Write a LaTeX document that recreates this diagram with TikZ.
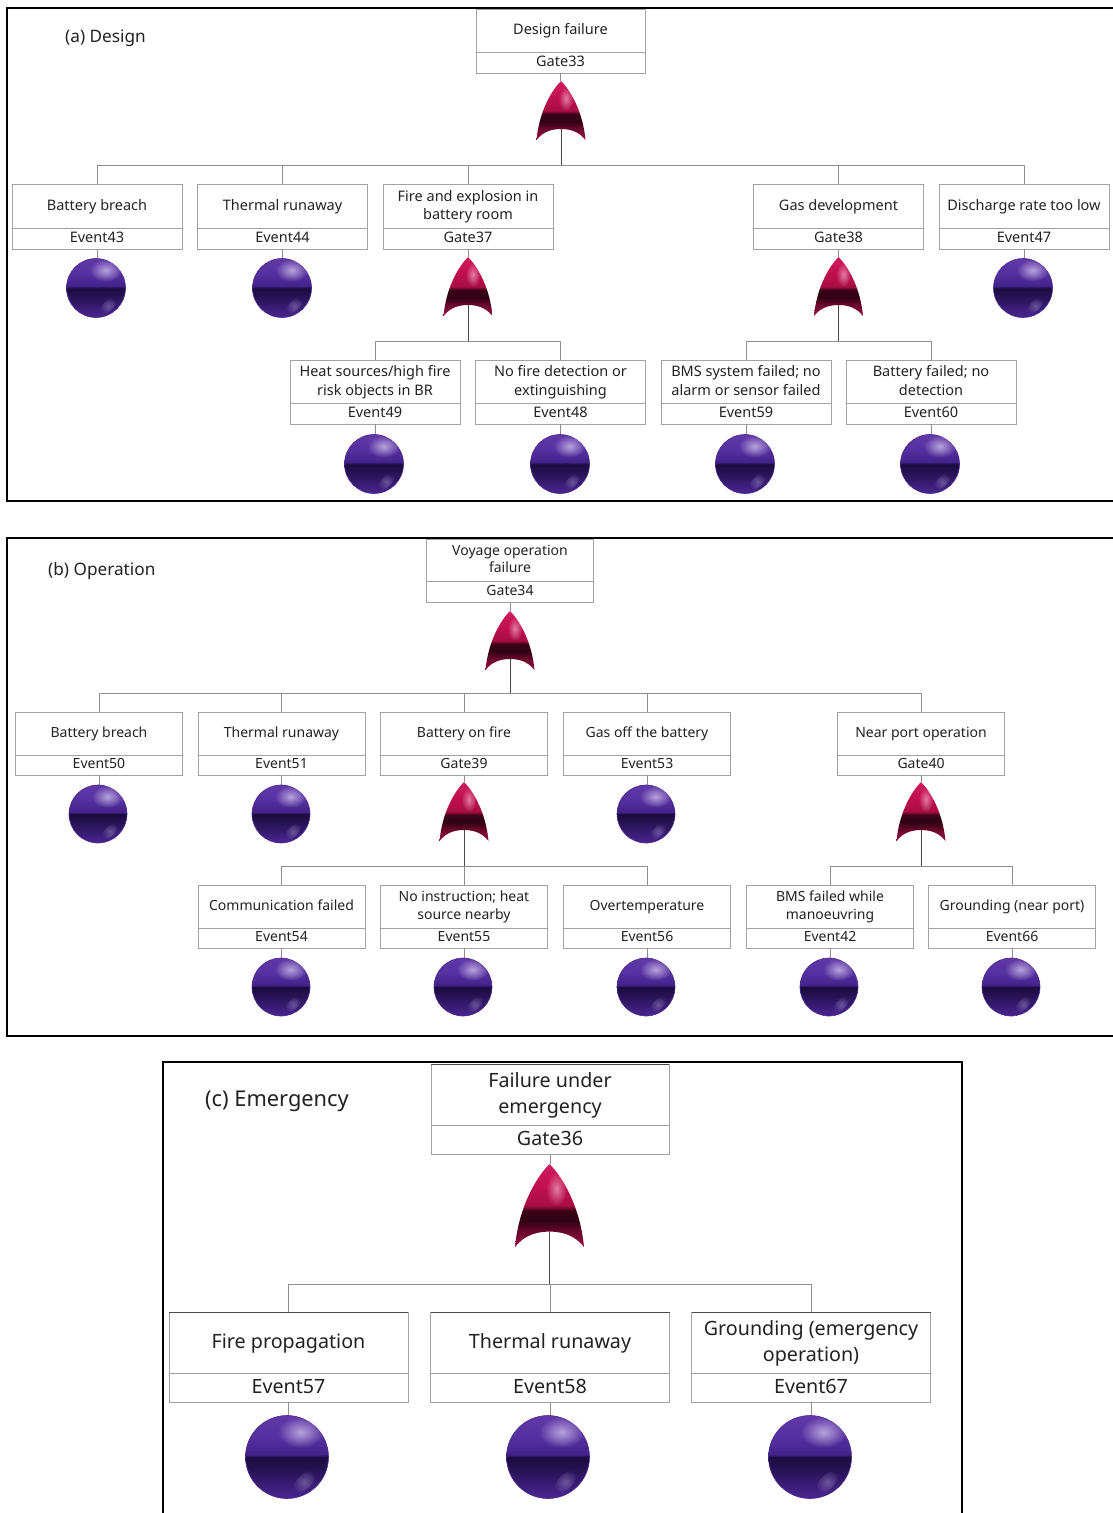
\documentclass[tikz,border=0pt]{standalone}
\usepackage{fontspec}
\setmainfont{Noto Sans}
\usetikzlibrary{fadings}
\definecolor{txt}{HTML}{222222}
\definecolor{boxline}{HTML}{A2A2A2}
\definecolor{connline}{HTML}{8E8E8E}
\definecolor{stemdark}{HTML}{4A4A4A}
\definecolor{ballrim}{HTML}{4A2A8C}
\definecolor{glowball}{HTML}{DCD0F2}
\definecolor{glowgate}{HTML}{F6B8D0}
\definecolor{bA}{HTML}{4B2593}\definecolor{bB}{HTML}{3A1D76}\definecolor{bC}{HTML}{241150}
\definecolor{bD}{HTML}{1B0C3E}\definecolor{bE}{HTML}{43228A}\definecolor{bF}{HTML}{5530A0}\definecolor{bG}{HTML}{6238A8}
\definecolor{gA}{HTML}{9C0E45}\definecolor{gB}{HTML}{66062A}\definecolor{gC}{HTML}{2E0212}
\definecolor{gD}{HTML}{3A0417}\definecolor{gE}{HTML}{A80D42}\definecolor{gF}{HTML}{C2104F}\definecolor{gG}{HTML}{CF1B5E}
\pgfdeclareverticalshading{ballshade}{100bp}{
 color(0bp)=(bA); color(25bp)=(bA); color(33bp)=(bB);
 color(44bp)=(bC); color(50bp)=(bD); color(51.5bp)=(bE);
 color(62bp)=(bF); color(75bp)=(bG); color(100bp)=(bG)}
\pgfdeclareverticalshading{gateshade}{100bp}{
 color(0bp)=(gA); color(25bp)=(gA); color(35bp)=(gB);
 color(41bp)=(gC); color(47bp)=(gD); color(50bp)=(gE);
 color(62bp)=(gF); color(75bp)=(gG); color(100bp)=(gG)}
\tikzfading[name=glow, inner color=transparent!20, outer color=transparent!100]
\tikzset{
 fbody/.style={draw=boxline, line width=1pt, fill=white, inner sep=0pt, outer sep=0pt, align=center, text=txt},
 conn/.style={draw=connline, line width=1pt},
 stem/.style={draw=stemdark, line width=1pt},
 paneltitle/.style={text=txt, anchor=west, inner sep=0pt},
 frame/.style={draw=black, line width=2pt},
}
\newcommand\mainstr{\rule[-.26\baselineskip]{0pt}{\baselineskip}}
\newcommand\idstr{\rule[-.28\baselineskip]{0pt}{\baselineskip}}
% name, cx, top, mid, bottom, width, text, id, font command
\newcommand\ftbox[9]{%
 \node[fbody, minimum width=#6pt, minimum height={(#4-#3)*1pt}, font=#9] (#1) at (#2,{(#3+#4)/2}) {\mainstr #7\mainstr};
 \node[fbody, minimum width=#6pt, minimum height={(#5-#4)*1pt}, font=#9] (#1-id) at (#2,{(#4+#5)/2}) {\idstr #8};
}
% name, x, y, r, parent box
\newcommand\ftball[5]{%
 \node[circle, minimum size={2*#4*1pt}, inner sep=0pt, outer sep=0pt] (#1) at (#2,#3) {};
 \draw[conn] (#5.south) -- (#5.south |- #1.north);
 \begin{scope}[shift={(#2,#3)}, x=#4pt, y=-#4pt]
  \shade[shading=ballshade] (0,0) circle[radius=1];
  \draw[draw=ballrim, line width=.6pt] (0,0) circle[radius=1];
  \fill[glowball, opacity=.9, path fading=glow] (.33,-.6) ellipse[x radius=.55, y radius=.38];
  \begin{scope}[shift={(.42,.6)}, rotate=45]
   \fill[glowball, opacity=.4, path fading=glow] (0,0) ellipse[x radius=.34, y radius=.17];
  \end{scope}
 \end{scope}
}
% name, cx, apex y, half-width, parent box, bar y
\newcommand\ftgate[6]{%
 \coordinate (#1) at (#2,#3);
 \coordinate (#1-bar) at (#2,#6);
 \draw[conn] (#5.south) -- (#5.south |- #1);
 \begin{scope}[shift={(#2,#3)}, x=#4pt, y=-#4pt]
  \shade[shading=gateshade] (0,0) .. controls (.42,.42) and (.9,1.3) .. (1,2.41)
    .. controls (.7,2.02) and (.3,1.96) .. (0,1.96)
    .. controls (-.3,1.96) and (-.7,2.02) .. (-1,2.41)
    .. controls (-.9,1.3) and (-.42,.42) .. (0,0) -- cycle;
  \fill[glowgate, path fading=glow, opacity=.8] (.2,.72) ellipse[x radius=.3, y radius=.5];
  \coordinate (#1-stem) at (0,1.96);
 \end{scope}
}
\begin{document}
\begin{tikzpicture}[x=1pt,y=-1pt]
\useasboundingbox (0,0) rectangle (1113,1513);
\fill[white] (0,0) rectangle (1113,1513);
% frames
\draw[frame] (1113,8) -- (7,8) -- (7,501) -- (1113,501);
\draw[frame] (1113,537.5) -- (7,537.5) -- (7,1036) -- (1113,1036);
\draw[frame] (163,1513) -- (163,1062) -- (962,1062) -- (962,1513);
\node[paneltitle, font=\fontsize{17.2}{21}\selectfont] (ta) at (65,38) {(a) Design};
\node[paneltitle, font=\fontsize{17.2}{21}\selectfont] (tb) at (48,571) {(b) Operation};
\node[paneltitle, font=\fontsize{21.8}{26}\selectfont] (tc) at (205,1101) {(c) Emergency};
\def\fa{\fontsize{14.5}{18.5}\selectfont}
\def\fb{\fontsize{14}{17.5}\selectfont}
\def\fc{\fontsize{19.7}{25.5}\selectfont}
% ---------- panel a
\ftbox{a0}{560.5}{9}{52}{73}{169}{Design failure}{Gate33}{\fa}
\ftgate{ga}{561}{81}{24.5}{a0-id}{165}
\ftbox{a1}{97}{184}{228}{249}{170}{Battery breach}{Event43}{\fa}
\ftbox{a2}{282.5}{184}{228}{249}{170}{Thermal runaway}{Event44}{\fa}
\ftbox{a3}{468}{184}{228}{249}{170}{Fire and explosion in\\battery room}{Gate37}{\fa}
\ftbox{a4}{838.5}{184}{228}{249}{170}{Gas development}{Gate38}{\fa}
\ftbox{a5}{1024}{184}{228}{249}{170}{Discharge rate too low}{Event47}{\fa}
\foreach \c in {a1,a2,a3,a4,a5} \draw[conn] (ga-bar) -| (\c.north);
\draw[stem] (ga-stem) -- (ga-bar);
\ftball{ba1}{96}{288}{29.5}{a1-id}
\ftball{ba2}{282}{288}{29.5}{a2-id}
\ftball{ba5}{1023}{288}{29.5}{a5-id}
\ftgate{gb}{468}{257}{24.5}{a3-id}{341}
\ftgate{gc}{838.5}{257}{24.5}{a4-id}{341}
\ftbox{a6}{375}{360}{403}{424}{170}{Heat sources/high fire\\risk objects in BR}{Event49}{\fa}
\ftbox{a7}{560.5}{360}{403}{424}{170}{No fire detection or\\extinguishing}{Event48}{\fa}
\ftbox{a8}{746}{360}{403}{424}{170}{BMS system failed; no\\alarm or sensor failed}{Event59}{\fa}
\ftbox{a9}{931}{360}{403}{424}{170}{Battery failed; no\\detection}{Event60}{\fa}
\foreach \c in {a6,a7} \draw[conn] (gb-bar) -| (\c.north);
\foreach \c in {a8,a9} \draw[conn] (gc-bar) -| (\c.north);
\draw[stem] (gb-stem) -- (gb-bar);
\draw[stem] (gc-stem) -- (gc-bar);
\ftball{ba6}{374}{464}{29.5}{a6-id}
\ftball{ba7}{560}{464}{29.5}{a7-id}
\ftball{ba8}{745}{464}{29.5}{a8-id}
\ftball{ba9}{930}{464}{29.5}{a9-id}
% ---------- panel b
\ftbox{b0}{510}{539}{581}{602}{167}{Voyage operation\\failure}{Gate34}{\fb}
\ftgate{gd}{510}{611}{24.5}{b0-id}{693}
\ftbox{b1}{99}{712}{755}{775}{167}{Battery breach}{Event50}{\fb}
\ftbox{b2}{281.5}{712}{755}{775}{167}{Thermal runaway}{Event51}{\fb}
\ftbox{b3}{464}{712}{755}{775}{167}{Battery on fire}{Gate39}{\fb}
\ftbox{b4}{647}{712}{755}{775}{167}{Gas off the battery}{Event53}{\fb}
\ftbox{b5}{921}{712}{755}{775}{167}{Near port operation}{Gate40}{\fb}
\foreach \c in {b1,b2,b3,b4,b5} \draw[conn] (gd-bar) -| (\c.north);
\draw[stem] (gd-stem) -- (gd-bar);
\ftball{bb1}{98}{814}{29}{b1-id}
\ftball{bb2}{281}{814}{29}{b2-id}
\ftball{bb4}{646}{814}{29}{b4-id}
\ftgate{ge}{464}{782}{24.5}{b3-id}{866}
\ftgate{gf}{921}{782}{24.5}{b5-id}{866}
\ftbox{b6}{281.5}{885}{928}{948}{167}{Communication failed}{Event54}{\fb}
\ftbox{b7}{464}{885}{928}{948}{167}{No instruction; heat\\source nearby}{Event55}{\fb}
\ftbox{b8}{647}{885}{928}{948}{167}{Overtemperature}{Event56}{\fb}
\ftbox{b9}{830}{885}{928}{948}{167}{BMS failed while\\manoeuvring}{Event42}{\fb}
\ftbox{b10}{1012}{885}{928}{948}{167}{Grounding (near port)}{Event66}{\fb}
\foreach \c in {b6,b7,b8} \draw[conn] (ge-bar) -| (\c.north);
\foreach \c in {b9,b10} \draw[conn] (gf-bar) -| (\c.north);
\draw[stem] (ge-stem) -- (ge-bar);
\draw[stem] (gf-stem) -- (gf-bar);
\ftball{bb6}{281}{987}{29}{b6-id}
\ftball{bb7}{463}{987}{29}{b7-id}
\ftball{bb8}{646}{987}{29}{b8-id}
\ftball{bb9}{829}{987}{29}{b9-id}
\ftball{bb10}{1011}{987}{29}{b10-id}
% ---------- panel c
\ftbox{c0}{550}{1064}{1125}{1154}{238}{Failure under\\emergency}{Gate36}{\fc}
\ftgate{gg}{549.5}{1164}{34.5}{c0-id}{1284}
\ftbox{c1}{288.5}{1312}{1373}{1402}{239}{Fire propagation}{Event57}{\fc}
\ftbox{c2}{550}{1312}{1373}{1402}{239}{Thermal runaway}{Event58}{\fc}
\ftbox{c3}{811}{1312}{1373}{1402}{239}{Grounding (emergency\\operation)}{Event67}{\fc}
\foreach \c in {c1,c2,c3} \draw[conn] (gg-bar) -| (\c.north);
\foreach \c in {c0,c1,c2,c3} \draw[stem] (\c.north west) -- (\c.north east);
\draw[stem] (gg-stem) -- (gg-bar);
\ftball{bc1}{287}{1457}{41.5}{c1-id}
\ftball{bc2}{548}{1457}{41.5}{c2-id}
\ftball{bc3}{810}{1457}{41.5}{c3-id}
\end{tikzpicture}
\end{document}
